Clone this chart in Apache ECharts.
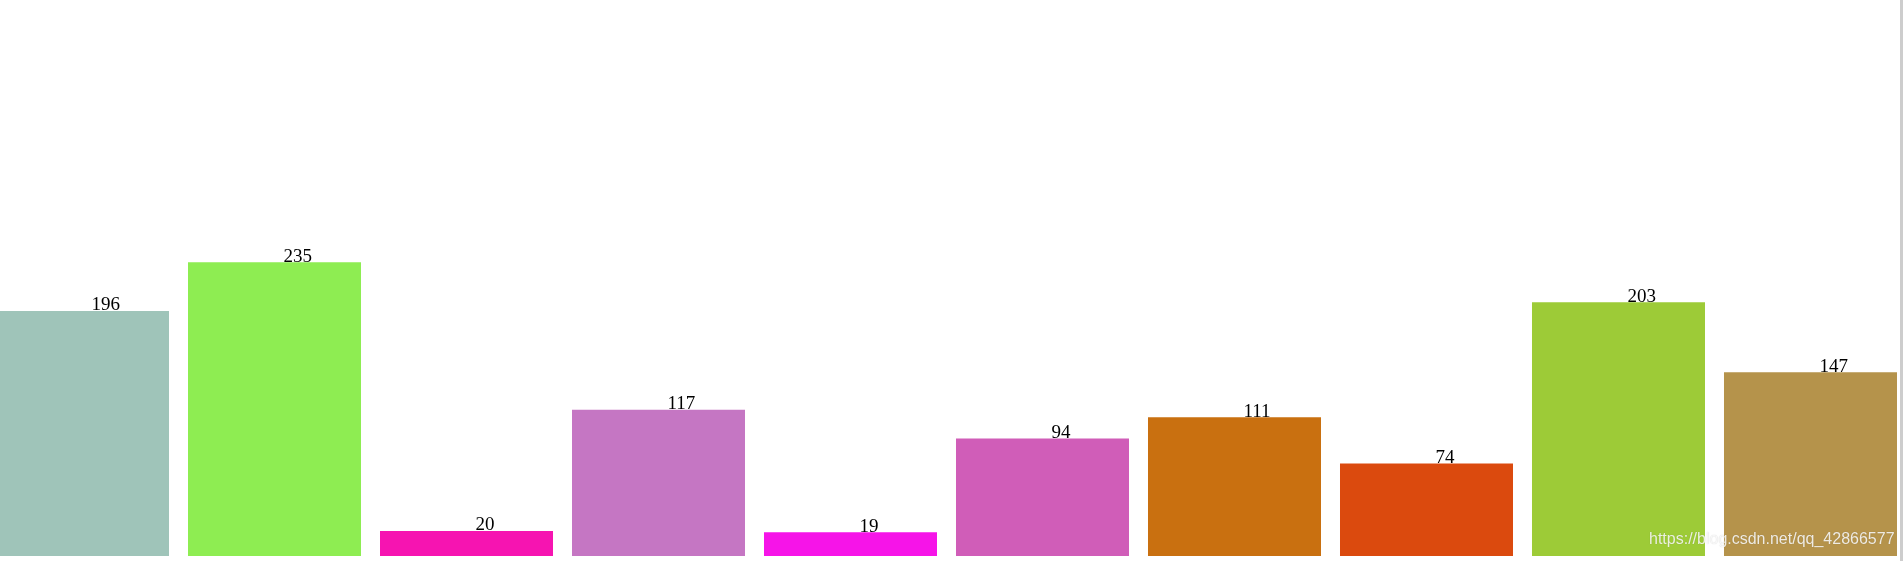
<!DOCTYPE html>
<html>
<head>
<meta charset="utf-8">
<script src="https://cdn.jsdelivr.net/npm/echarts@6/dist/echarts.min.js"></script>
<style>
html,body{margin:0;padding:0;background:#fff;}
#main{width:1903px;height:561px;}
</style>
</head>
<body>
<div id="main"></div>
<script>
const categories = [0, 1, 2, 3, 4, 5, 6, 7, 8, 9];
const values = [196, 235, 20, 117, 19, 94, 111, 74, 203, 147];
const colors = ['#9fc4b9','#8eed52','#f614b1','#c576c3','#f614e8','#d05db8','#c97010','#db4a0e','#9dcb37','#b5934b'];

const chart = echarts.init(document.getElementById('main'), null, {renderer:'canvas'});
chart.setOption({
  animation: false,
  backgroundColor: '#ffffff',
  grid: { left: 0, right: 0, top: 6, bottom: 5, containLabel: false },
  xAxis: {
    type: 'value', min: -0.4297, max: 9.4818, show: false, splitLine: {show:false}
  },
  yAxis: {
    type: 'value', min: 0, max: 440, show: false, splitLine: {show:false}
  },
  series: [{
    type: 'bar',
    barWidth: 173,
    data: values.map((v, i) => ({ value: [categories[i], v], itemStyle: { color: colors[i] } })),
    label: {
      show: true,
      position: ['50%', 0],
      offset: [9, 4],
      align: 'left',
      verticalAlign: 'bottom',
      color: '#000',
      fontFamily: '"Liberation Serif", "Times New Roman", serif',
      fontSize: 19,
      formatter: p => p.value[1]
    }
  }],
  graphic: [
    { type: 'rect', left: 1900, top: 0, shape: { width: 3, height: 561 }, style: { fill: '#cdcdcd' }, z: 100 },
    { type: 'text', left: 1649, top: 532, z: 100,
      style: { text: 'https://blog.csdn.net/qq_42866577', fill: 'rgba(255,255,255,0.85)',
        font: '16px "Liberation Sans", Arial, sans-serif',
        textShadowColor: 'rgba(0,0,0,0.25)', textShadowBlur: 1 } }
  ]
});
</script>
</body>
</html>
